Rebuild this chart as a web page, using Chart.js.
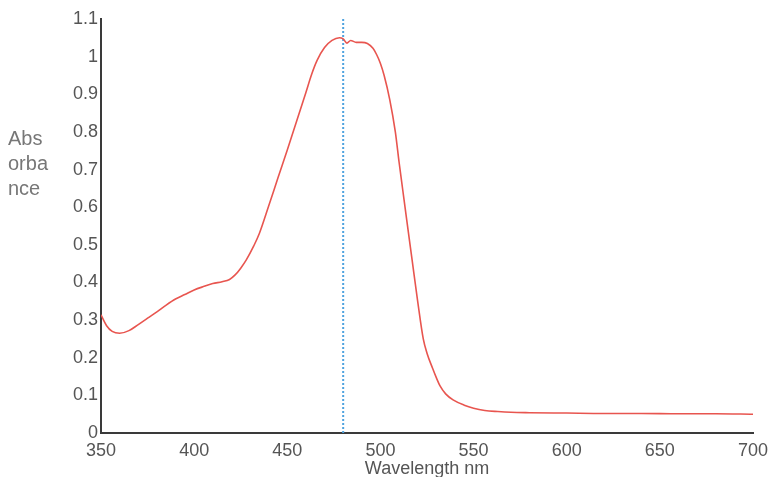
<!DOCTYPE html>
<html>
<head>
<meta charset="utf-8">
<script src="https://cdn.jsdelivr.net/npm/chart.js@4"></script>
<style>
    html, body { margin: 0; padding: 0; background: #fff; }
    #wrap { width: 773px; height: 477px; }
</style>
</head>
<body>
<div id="wrap"><canvas id="absChart" width="773" height="477"></canvas></div>
<script>
// wavelengths (nm) and absorbance
const wavelengths = [350, 353, 356, 360, 365, 370, 375, 380, 385, 390, 395, 400, 405, 410, 415, 419,
    422, 425, 428, 432, 435, 440, 445, 450, 455, 460, 463, 466, 470, 474, 478, 480, 482, 484, 487,
    490, 493, 496, 498, 500, 502, 505, 508, 510, 512, 514, 517, 520, 523, 525, 528, 530, 532, 535,
    539, 545, 550, 556, 563, 570, 580, 600, 620, 640, 660, 680, 700];
const absorbance = [0.314, 0.285, 0.270, 0.265, 0.272, 0.288, 0.305, 0.322, 0.340, 0.356, 0.368, 0.380, 0.389, 0.397, 0.402, 0.408,
    0.420, 0.438, 0.460, 0.497, 0.530, 0.603, 0.678, 0.752, 0.828, 0.905, 0.952, 0.990, 1.024, 1.043, 1.050, 1.047, 1.036, 1.043, 1.038,
    1.038, 1.035, 1.022, 1.005, 0.982, 0.950, 0.886, 0.800, 0.720, 0.645, 0.570, 0.460, 0.350, 0.250, 0.212, 0.172, 0.147, 0.125, 0.104,
    0.088, 0.074, 0.066, 0.060, 0.057, 0.055, 0.054, 0.053, 0.052, 0.052, 0.051, 0.051, 0.050];

// peak marker (dotted vertical line)
const peakWavelength = 480;
const peakLine = [0, 1.1];

const xTicks = [350, 400, 450, 500, 550, 600, 650, 700];
const yTicks = [0, 0.1, 0.2, 0.3, 0.4, 0.5, 0.6, 0.7, 0.8, 0.9, 1, 1.1];
const yTitleLines = ['Abs', 'orba', 'nce'];

const spectrum = wavelengths.map(function (w, i) { return { x: w, y: absorbance[i] }; });
const marker = peakLine.map(function (v) { return { x: peakWavelength, y: v }; });

// horizontal wrapped y title, drawn left of the axis
const yTitlePlugin = {
    id: 'yTitle',
    afterDraw: function (chart) {
        const ctx = chart.ctx;
        ctx.save();
        ctx.fillStyle = '#777';
        ctx.font = '20px "Liberation Sans", Arial, sans-serif';
        ctx.textBaseline = 'alphabetic';
        ctx.textAlign = 'left';
        yTitleLines.forEach(function (t, i) {
            ctx.fillText(t, 8, 145 + i * 25);
        });
        ctx.restore();
    }
};

const ctx = document.getElementById('absChart').getContext('2d');
new Chart(ctx, {
    type: 'line',
    data: {
        datasets: [{
            data: spectrum,
            borderColor: '#e8554f',
            borderWidth: 1.6,
            pointRadius: 0,
            cubicInterpolationMode: 'monotone',
            fill: false
        }, {
            data: marker,
            borderColor: '#4fa3df',
            borderWidth: 2,
            borderDash: [2, 2],
            pointRadius: 0,
            fill: false
        }]
    },
    options: {
        responsive: false,
        animation: false,
        layout: { padding: { left: 0, top: 19, right: 20, bottom: 0 } },
        plugins: {
            legend: { display: false },
            tooltip: { enabled: false }
        },
        scales: {
            x: {
                type: 'linear',
                min: 350,
                max: 700,
                afterFit: function (s) {
                    s.height = 44;
                    s.paddingLeft = 0;
                    s.paddingRight = 0;
                },
                afterBuildTicks: function (s) { s.ticks = xTicks.map(function (v) { return { value: v }; }); },
                grid: { display: false, drawTicks: false },
                border: { display: true, color: '#3a3a3a', width: 2 },
                ticks: {
                    padding: 7,
                    color: '#555',
                    font: { family: '"Liberation Sans", Arial, sans-serif', size: 18 },
                    maxRotation: 0
                },
                title: {
                    display: true,
                    text: 'Wavelength nm',
                    color: '#555',
                    font: { family: '"Liberation Sans", Arial, sans-serif', size: 18 },
                    padding: { top: 0, bottom: -3 }
                }
            },
            y: {
                min: 0,
                max: 1.1,
                afterFit: function (s) { s.width = 101; },
                afterBuildTicks: function (s) { s.ticks = yTicks.map(function (v) { return { value: v }; }); },
                grid: { display: false, drawTicks: false },
                border: { display: true, color: '#3a3a3a', width: 2 },
                ticks: {
                    padding: 3,
                    color: '#555',
                    font: { family: '"Liberation Sans", Arial, sans-serif', size: 18 },
                    callback: function (v) { return String(Number(v.toFixed(1))); }
                }
            }
        }
    },
    plugins: [yTitlePlugin]
});
</script>
</body>
</html>
